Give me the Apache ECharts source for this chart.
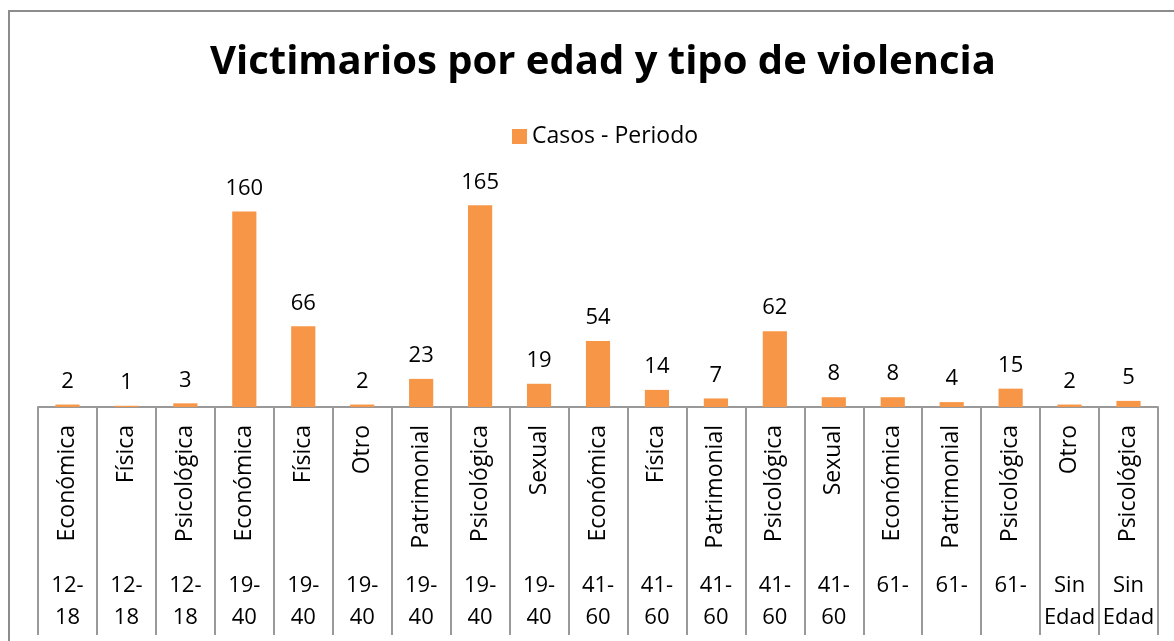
<!DOCTYPE html>
<html>
<head>
<meta charset="utf-8">
<script src="https://cdn.jsdelivr.net/npm/echarts@6/dist/echarts.min.js"></script>
<style>
  html, body { margin: 0; padding: 0; background: #fff; }
  #chart { width: 1174px; height: 641px; }
</style>
</head>
<body>
<div id="chart"></div>
<script>
// tipo de violencia (inner labels)
const tipos = ['Económica', 'Física', 'Psicológica', 'Económica', 'Física', 'Otro', 'Patrimonial',
  'Psicológica', 'Sexual', 'Económica', 'Física', 'Patrimonial', 'Psicológica', 'Sexual',
  'Económica', 'Patrimonial', 'Psicológica', 'Otro', 'Psicológica']
// edad (outer labels)
const edades = ['12-\n18', '12-\n18', '12-\n18', '19-\n40', '19-\n40', '19-\n40', '19-\n40',
  '19-\n40', '19-\n40', '41-\n60', '41-\n60', '41-\n60', '41-\n60', '41-\n60',
  '61-', '61-', '61-', 'Sin\nEdad', 'Sin\nEdad']
const casos = [2, 1, 3, 160, 66, 2, 23, 165, 19, 54, 14, 7, 62, 8, 8, 4, 15, 2, 5]

const font = '"Open Sans", "Noto Sans", sans-serif'
const chart = echarts.init(document.getElementById('chart'))

chart.setOption({
  animation: false,
  textStyle: { fontFamily: font },
  title: {
    text: 'Victimarios por edad y tipo de violencia',
    left: 205,
    top: 38,
    textStyle: { fontSize: 40, fontWeight: 'bold', color: '#000', fontFamily: font }
  },
  legend: {
    data: ['Casos - Periodo'],
    top: 120,
    left: 507,
    itemWidth: 15,
    itemHeight: 15,
    itemGap: 6,
    icon: 'rect',
    textStyle: { fontSize: 23, color: '#000', fontFamily: font }
  },
  graphic: [{
    type: 'rect',
    shape: { x: 9, y: 11, width: 1300, height: 800 },
    style: { fill: 'none', stroke: '#8c8c8c', lineWidth: 2 },
    silent: true
  }],
  grid: { left: 38, right: 16, top: 187, bottom: 234 },
  xAxis: [
    {
      type: 'category',
      data: tipos,
      position: 'bottom',
      axisLine: { show: true, lineStyle: { color: '#999', width: 2 } },
      axisTick: { show: true, alignWithLabel: false, length: 228, lineStyle: { color: '#999', width: 2 } },
      axisLabel: {
        rotate: 90,
        margin: 18,
        fontSize: 23,
        color: '#000',
        fontFamily: font,
        interval: 0
      }
    },
    {
      type: 'category',
      data: edades,
      position: 'bottom',
      offset: 155,
      axisLine: { show: false },
      axisTick: { show: false },
      axisLabel: {
        margin: 8,
        fontSize: 22,
        lineHeight: 32,
        color: '#000',
        fontFamily: font,
        interval: 0,
        verticalAlign: 'top'
      }
    }
  ],
  yAxis: {
    type: 'value',
    min: 0,
    max: 180,
    show: false,
    splitLine: { show: false }
  },
  series: [{
    name: 'Casos - Periodo',
    type: 'bar',
    data: casos,
    xAxisIndex: 0,
    barWidth: '41%',
    itemStyle: { color: '#F79646' },
    label: {
      show: true,
      position: 'top',
      distance: 12,
      fontSize: 22,
      color: '#000',
      fontFamily: font
    }
  }]
})
</script>
</body>
</html>
